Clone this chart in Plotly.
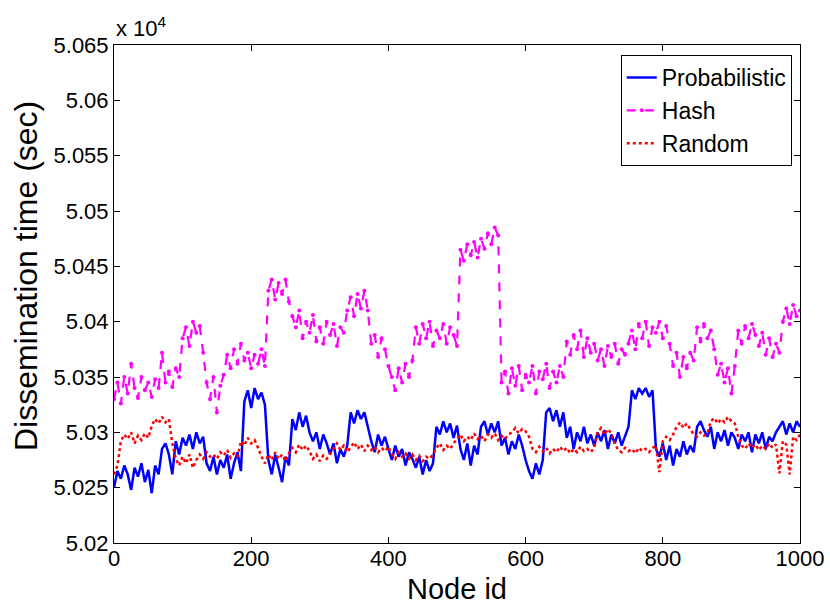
import plotly.graph_objects as go

node_ids = list(range(0, 1001, 5))

hash_vals = [
50330,50345,50326,50350,50335,50362,50340,50331,50350,50338,
50345,50332,50348,50340,50372,50345,50355,50341,50358,50350,
50385,50395,50378,50400,50390,50396,50372,50345,50330,50350,
50318,50342,50352,50370,50358,50375,50362,50380,50365,50372,
50358,50370,50362,50375,50360,50428,50438,50420,50435,50425,
50438,50418,50405,50395,50410,50385,50400,50390,50406,50382,
50395,50380,50400,50388,50398,50378,50395,50390,50410,50422,
50405,50425,50412,50428,50410,50380,50388,50368,50385,50375,
50360,50350,50338,50358,50345,50362,50350,50365,50395,50380,
50398,50385,50400,50378,50392,50385,50398,50380,50395,50388,
50378,50465,50455,50470,50460,50472,50458,50475,50466,50480,
50470,50485,50478,50345,50355,50335,50358,50342,50360,50338,
50352,50345,50360,50335,50355,50348,50362,50340,50355,50345,
50360,50350,50382,50370,50388,50375,50392,50368,50385,50372,
50380,50365,50375,50360,50378,50368,50380,50362,50375,50370,
50380,50392,50375,50398,50385,50400,50378,50395,50390,50400,
50385,50396,50380,50360,50372,50350,50368,50358,50372,50365,
50395,50382,50398,50385,50392,50375,50352,50362,50345,50358,
50335,50360,50392,50380,50396,50385,50398,50388,50378,50390,
50370,50385,50368,50380,50372,50400,50412,50398,50415,50405,
50410]

prob_vals = [
50250,50265,50258,50270,50262,50248,50268,50260,50272,50255,
50266,50245,50270,50262,50285,50290,50280,50262,50292,50280,
50295,50288,50298,50285,50300,50290,50296,50272,50265,50278,
50262,50275,50268,50280,50258,50272,50282,50265,50328,50338,
50322,50340,50330,50336,50325,50275,50262,50280,50268,50255,
50278,50270,50312,50302,50318,50305,50315,50300,50292,50300,
50285,50298,50290,50280,50290,50272,50285,50278,50288,50318,
50308,50320,50312,50318,50305,50292,50282,50298,50288,50296,
50285,50275,50288,50278,50285,50270,50282,50276,50268,50278,
50262,50275,50265,50272,50305,50298,50310,50300,50308,50295,
50306,50285,50275,50290,50270,50288,50280,50305,50310,50298,
50308,50300,50310,50288,50295,50280,50292,50285,50298,50288,
50275,50265,50258,50272,50262,50275,50318,50322,50310,50320,
50305,50318,50295,50305,50285,50300,50292,50305,50290,50298,
50288,50300,50292,50302,50285,50298,50290,50300,50288,50296,
50305,50338,50330,50340,50335,50340,50332,50338,50285,50278,
50290,50275,50288,50270,50285,50278,50292,50280,50288,50282,
50305,50310,50302,50296,50305,50285,50300,50292,50302,50288,
50300,50295,50285,50298,50292,50300,50282,50298,50290,50300,
50285,50296,50292,50300,50305,50310,50298,50308,50300,50310,
50305]

rand_vals = [
50262,50270,50292,50298,50294,50300,50290,50297,50293,50299,
50295,50306,50312,50308,50314,50309,50312,50290,50276,50270,
50278,50272,50280,50268,50275,50280,50276,50282,50278,50280,
50276,50282,50279,50284,50277,50281,50278,50292,50288,50295,
50290,50293,50286,50278,50272,50280,50275,50282,50276,50280,
50274,50281,50286,50282,50289,50284,50288,50283,50276,50280,
50274,50279,50276,50281,50286,50290,50284,50288,50282,50287,
50291,50285,50289,50283,50288,50284,50287,50282,50286,50283,
50287,50280,50276,50282,50278,50281,50276,50280,50275,50279,
50274,50278,50276,50280,50286,50290,50284,50288,50285,50290,
50294,50298,50292,50296,50293,50299,50294,50297,50292,50298,
50295,50299,50293,50297,50294,50298,50300,50304,50299,50303,
50301,50296,50285,50282,50287,50283,50286,50281,50285,50282,
50287,50283,50286,50281,50285,50282,50287,50283,50285,50282,
50286,50300,50304,50298,50303,50299,50290,50284,50282,50286,
50283,50285,50281,50286,50283,50285,50282,50286,50288,50264,
50292,50296,50293,50298,50305,50309,50304,50308,50303,50298,
50296,50300,50297,50299,50310,50313,50308,50312,50309,50314,
50310,50308,50296,50288,50285,50290,50286,50289,50284,50288,
50285,50290,50286,50289,50263,50292,50289,50262,50296,50293,
50298]

y_tick_vals = [50200, 50250, 50300, 50350, 50400, 50450, 50500, 50550, 50600, 50650]
y_tick_text = ["5.02", "5.025", "5.03", "5.035", "5.04", "5.045", "5.05", "5.055", "5.06", "5.065"]
x_tick_vals = [0, 200, 400, 600, 800, 1000]

FONT = "Liberation Sans, Arial, sans-serif"

fig = go.Figure()
fig.add_trace(go.Scatter(x=node_ids, y=prob_vals, name="Probabilistic", mode="lines",
                         line=dict(color="#0000FF", width=2.5)))
fig.add_trace(go.Scatter(x=node_ids, y=hash_vals, name="Hash", mode="lines+markers",
                         line=dict(color="#FF00FF", width=2.2, dash="dash"),
                         marker=dict(color="#FF00FF", size=4)))
fig.add_trace(go.Scatter(x=node_ids, y=rand_vals, name="Random", mode="lines",
                         line=dict(color="#FF0000", width=2.5, dash="dot")))

axis_common = dict(showline=True, linecolor="black", linewidth=1, mirror="ticks",
                   ticks="inside", ticklen=6, tickcolor="black", showgrid=False,
                   zeroline=False, tickfont=dict(family=FONT, size=22, color="black"))

fig.update_layout(
    width=830, height=610,
    margin=dict(l=114, r=30, t=45, b=67, autoexpand=False),
    paper_bgcolor="white", plot_bgcolor="white",
    font=dict(family=FONT, color="black"),
    xaxis=dict(range=[0, 1000], tickvals=x_tick_vals, automargin=False, ticklabelstandoff=-4,
               title=dict(text="Node id", font=dict(family=FONT, size=29), standoff=8),
               **axis_common),
    yaxis=dict(range=[50200, 50650], tickvals=y_tick_vals, ticktext=y_tick_text, automargin=False,
               **axis_common),
    legend=dict(x=0.988, y=0.98, xanchor="right", yanchor="top",
                bgcolor="white", bordercolor="black", borderwidth=1,
                font=dict(family=FONT, size=23), tracegroupgap=0),
    showlegend=True,
)

fig.add_annotation(x=0, y=1, xref="paper", yref="paper", xanchor="left", yanchor="bottom",
                   text="x 10<sup>4</sup>", showarrow=False, yshift=2,
                   font=dict(family=FONT, size=22, color="black"))

fig.add_annotation(x=0, y=0.536, xref="paper", yref="paper", xanchor="center", yanchor="middle",
                   text="Dissemination time (sec)", textangle=-90, showarrow=False, xshift=-88,
                   font=dict(family=FONT, size=32, color="black"))

fig.write_html("out.html")
